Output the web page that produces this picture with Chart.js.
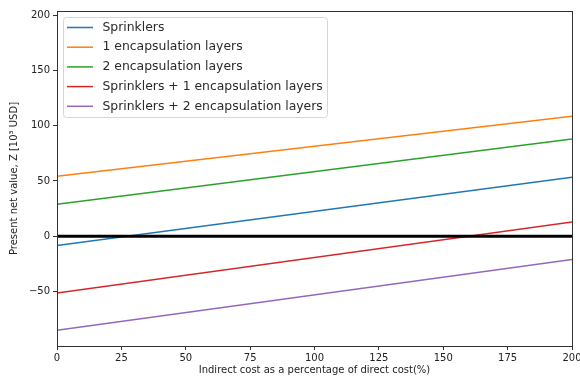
<!DOCTYPE html>
<html>
<head>
<meta charset="utf-8">
<script src="https://cdn.jsdelivr.net/npm/chart.js@4"></script>
<style>
  body { margin: 0; background: #fff; }
</style>
</head>
<body>
<canvas id="myChart" width="580" height="378"></canvas>
<script>
// x values (indirect cost %) and the series values at those x
var xValues = [0, 200];
var sprinklers = [-8.4, 53.4];
var encap1 = [54.3, 108.6];
var encap2 = [29, 88];
var sprEncap1 = [-51.3, 12.8];
var sprEncap2 = [-85, -21];
var zeroLine = [0, 0];

var seriesNames = ['Sprinklers', '1 encapsulation layers', '2 encapsulation layers',
    'Sprinklers + 1 encapsulation layers', 'Sprinklers + 2 encapsulation layers'];
var seriesColors = ['#1f77b4', '#ff7f0e', '#2ca02c', '#d62728', '#9467bd'];

var xTicks = [0, 25, 50, 75, 100, 125, 150, 175, 200];
var yTicks = [-50, 0, 50, 100, 150, 200];

function toPoints(ys) {
    return ys.map(function (y, i) { return { x: xValues[i], y: y }; });
}

var allSeries = [sprinklers, encap1, encap2, sprEncap1, sprEncap2];
var datasets = [{
    label: 'zero',
    data: toPoints(zeroLine),
    borderColor: '#000',
    borderWidth: 3,
    pointRadius: 0,
    clip: 0,
    order: -1
}];
allSeries.forEach(function (s, i) {
    datasets.push({
        label: seriesNames[i],
        data: toPoints(s),
        borderColor: seriesColors[i],
        backgroundColor: seriesColors[i],
        borderWidth: 1.5,
        pointRadius: 0,
        clip: 0,
        order: i
    });
});

// box around the plot + legend inside the axes, like matplotlib
var framePlugin = {
    id: 'frame',
    afterDatasetsDraw: function (chart) {
        var c = chart.ctx, a = chart.chartArea;
        c.save();
        c.strokeStyle = '#333';
        c.lineWidth = 1;
        c.strokeRect(Math.round(a.left) + 0.5, Math.round(a.top) + 0.5,
            Math.round(a.right - a.left), Math.round(a.bottom - a.top));

        // legend
        var bx = 63.5, by = 17.5, bw = 264, bh = 100;
        c.fillStyle = 'rgba(255,255,255,0.8)';
        c.strokeStyle = '#d6d6d6';
        c.beginPath();
        c.roundRect(bx, by, bw, bh, 3);
        c.fill();
        c.stroke();
        c.font = '12.4px "DejaVu Sans"';
        c.textBaseline = 'middle';
        c.fillStyle = '#2a2a2a';
        seriesNames.forEach(function (name, i) {
            var y = 27.5 + i * 19.7;
            c.strokeStyle = seriesColors[i];
            c.lineWidth = 1.5;
            c.beginPath();
            c.moveTo(67, y);
            c.lineTo(93, y);
            c.stroke();
            c.fillText(name, 102.5, y);
        });
        c.restore();
    }
};

var ctx = document.getElementById('myChart').getContext('2d');
var chart = new Chart(ctx, {
    type: 'line',
    data: { datasets: datasets },
    options: {
        responsive: false,
        animation: false,
        layout: { padding: { top: 11, right: 8, left: 0, bottom: 0 } },
        plugins: { legend: { display: false }, tooltip: { enabled: false } },
        scales: {
            x: {
                type: 'linear',
                min: 0,
                max: 200,
                afterBuildTicks: function (scale) {
                    scale.ticks = xTicks.map(function (v) { return { value: v }; });
                },
                afterFit: function (scale) {
                    scale.height = 32;
                    scale.paddingLeft = 0;
                    scale.paddingRight = 0;
                },
                grid: { display: true, drawOnChartArea: false, tickLength: 4, color: '#333' },
                border: { display: false },
                ticks: {
                    padding: 2, color: '#222', maxRotation: 0,
                    font: { family: 'DejaVu Sans', size: 10 }
                },
                title: {
                    display: true,
                    text: 'Indirect cost as a percentage of direct cost(%)',
                    color: '#222',
                    font: { family: 'DejaVu Sans', size: 10 },
                    padding: { top: 0, bottom: 2 }
                }
            },
            y: {
                type: 'linear',
                min: -99.3,
                max: 203.8,
                afterBuildTicks: function (scale) {
                    scale.ticks = yTicks.map(function (v) { return { value: v }; });
                },
                afterFit: function (scale) {
                    scale.width = 57;
                    scale.paddingTop = 0;
                    scale.paddingBottom = 0;
                },
                grid: { display: true, drawOnChartArea: false, tickLength: 4, color: '#333' },
                border: { display: false },
                ticks: {
                    padding: 3, color: '#222',
                    font: { family: 'DejaVu Sans', size: 10 },
                    callback: function (v) { return v < 0 ? '\u2212' + Math.abs(v) : v; }
                },
                title: {
                    display: true,
                    text: 'Present net value, Z [10\u00b3 USD]',
                    color: '#222',
                    font: { family: 'DejaVu Sans', size: 10 },
                    padding: { top: 8, bottom: 0 }
                }
            }
        }
    },
    plugins: [framePlugin]
});
</script>
</body>
</html>
